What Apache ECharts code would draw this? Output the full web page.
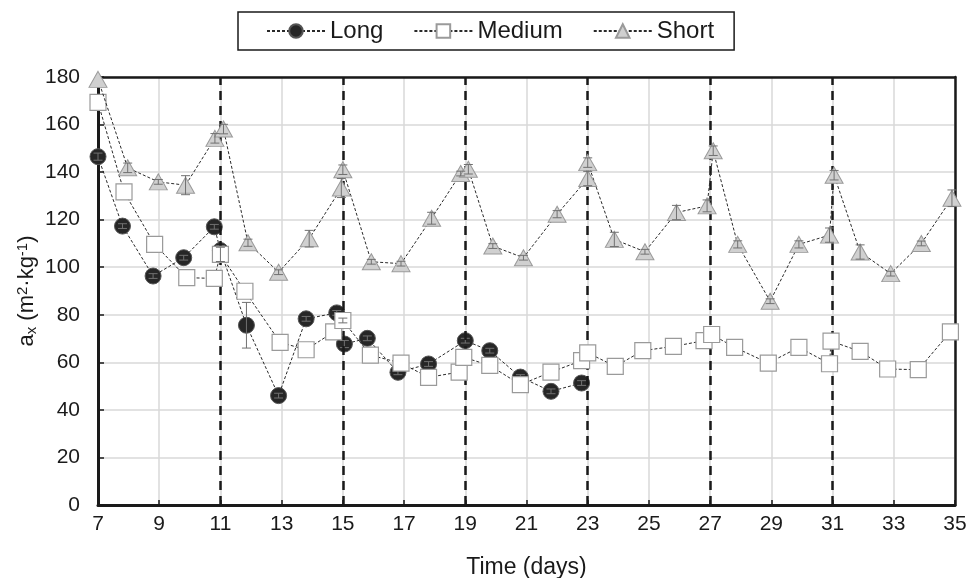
<!DOCTYPE html>
<html>
<head>
<meta charset="utf-8">
<script src="https://cdn.jsdelivr.net/npm/echarts@6/dist/echarts.min.js"></script>
<style>html,body{margin:0;padding:0;background:#fff}#c{width:968px;height:578px}</style>
</head>
<body>
<div id="c"></div>
<script>
// Long series: [day, value, error]
const longDays = [7, 7.8, 8.8, 9.8, 10.8, 11.0, 11.85, 12.9, 13.8, 14.8, 15.05, 15.8, 16.8, 17.8, 19.0, 19.8, 20.8, 21.8, 22.8];
const longVals = [146.5, 117.3, 96.3, 104, 117, 107, 75.6, 46, 78.3, 80.8, 67.7, 70.1, 55.8, 59.3, 69.1, 64.9, 53.8, 47.8, 51.3];
const longErr  = [1.5, 1, 1, 1, 1, 2, 9.6, 1, 1, 1, 1.5, 1, 1, 1, 1, 1, 1, 1, 1];

const mediumDays = [7, 7.85, 8.85, 9.9, 10.8, 11.0, 11.8, 12.95, 13.8, 14.7, 15.0, 15.9, 16.9, 17.8, 18.8, 18.95, 19.8, 20.8, 21.8, 22.8, 23.0, 23.9, 24.8, 25.8, 26.8, 27.05, 27.8, 28.9, 29.9, 30.9, 30.95, 31.9, 32.8, 33.8, 34.85];
const mediumVals = [169.3, 131.7, 109.6, 95.6, 95.3, 105.4, 89.9, 68.4, 65.3, 72.8, 77.6, 63, 59.7, 53.7, 55.9, 62.1, 58.7, 50.6, 55.9, 60.7, 64, 58.3, 64.9, 66.7, 69.1, 71.7, 66.3, 59.7, 66.3, 59.4, 68.9, 64.6, 57.2, 56.9, 72.8];
const mediumErr  = [0, 0, 0, 0, 0, 3, 0, 0, 0, 0, 1, 0, 0, 0, 0, 0, 0, 0, 0, 0, 0, 0, 0, 0, 0, 0, 0, 0, 0, 0, 0, 0, 0, 0, 0];

const shortDays = [7, 7.97, 8.97, 9.86, 10.82, 11.1, 11.9, 12.9, 13.9, 14.95, 15.0, 15.93, 16.9, 17.9, 18.85, 19.1, 19.9, 20.9, 22.0, 23.0, 23.0, 23.87, 24.87, 25.9, 26.9, 27.1, 27.9, 28.96, 29.9, 30.9, 31.05, 31.9, 32.9, 33.9, 34.9];
const shortVals = [179, 141.8, 135.9, 134.5, 154.2, 158.1, 110.3, 97.9, 112, 133.3, 141, 102.3, 101.5, 120.6, 139.4, 141.2, 108.9, 104, 122.3, 137.3, 144, 111.7, 106.5, 123, 125.8, 149, 109.6, 85.7, 109.6, 113.5, 138.7, 106.4, 97.3, 110, 129];
const shortErr  = [0, 2, 1, 4, 2, 2, 1.5, 1, 3.5, 4, 2, 1, 1, 2.5, 1, 2, 1, 1, 1.5, 3, 2, 3, 1, 3, 2.5, 2, 1.5, 1, 1.5, 3, 2, 3, 1, 1, 3.5];

const dividers = [11, 15, 19, 23, 27, 31];
const xTicks = {min: 7, max: 35, interval: 2};
const yTicks = {min: 0, max: 180, interval: 20};

const FONT = "'Liberation Sans', Arial, Helvetica, sans-serif";
const INK = '#1a1a1a';

function zip(d, v) { return d.map((x, i) => [x, v[i]]); }
function zip3(d, v, e) { return d.map((x, i) => [x, v[i], e[i]]).filter(r => r[2] > 0); }

function errRender(params, api) {
  const x = api.value(0), y = api.value(1), e = api.value(2);
  const t = api.coord([x, y + e]);
  const b = api.coord([x, y - e]);
  const w = 4.5;
  const st = {stroke: '#707070', lineWidth: 1};
  return {
    type: 'group',
    children: [
      {type: 'line', shape: {x1: t[0], y1: t[1], x2: b[0], y2: b[1]}, style: st},
      {type: 'line', shape: {x1: t[0] - w, y1: t[1], x2: t[0] + w, y2: t[1]}, style: st},
      {type: 'line', shape: {x1: b[0] - w, y1: b[1], x2: b[0] + w, y2: b[1]}, style: st}
    ]
  };
}

const lineStyle = {type: [3, 2], width: 1, color: '#2a2a2a'};
const frameAxis = {
  axisLine: {show: true, onZero: false, lineStyle: {color: INK, width: 2.5}},
  axisTick: {show: false}, axisLabel: {show: false}, splitLine: {show: false}
};

const chart = echarts.init(document.getElementById('c'), null, {renderer: 'canvas'});
chart.setOption({
  animation: false,
  backgroundColor: '#fff',
  textStyle: {fontFamily: FONT},
  legend: {
    data: ['Long', 'Medium', 'Short'],
    top: 12,
    left: 238,
    itemWidth: 58,
    itemHeight: 17,
    itemGap: 30,
    padding: [7, 20, 7, 28],
    borderColor: INK,
    borderWidth: 1.5,
    textStyle: {fontSize: 24, color: INK, fontFamily: FONT}
  },
  grid: {left: 98, right: 13, top: 77, bottom: 73, outerBoundsMode: 'none', containLabel: false},
  xAxis: [{
    type: 'value',
    min: xTicks.min, max: xTicks.max, interval: xTicks.interval,
    name: 'Time (days)',
    nameLocation: 'middle',
    nameGap: 51,
    nameMoveOverlap: false,
    nameTextStyle: {fontSize: 23, color: INK, fontFamily: FONT},
    axisLine: {onZero: false, lineStyle: {color: INK, width: 3}},
    axisTick: {inside: true, length: 5, lineStyle: {color: INK, width: 1.5}},
    axisLabel: {fontSize: 21, color: INK, margin: 9, fontFamily: FONT},
    splitLine: {show: true, lineStyle: {color: '#d9d9d9', width: 1.5}}
  }, Object.assign({
    type: 'value', position: 'top',
    min: xTicks.min, max: xTicks.max, interval: xTicks.interval
  }, frameAxis)],
  yAxis: [{
    type: 'value',
    min: yTicks.min, max: yTicks.max, interval: yTicks.interval,
    name: '{a|a}{s|x}{a| (m}{p|2}{a|·kg}{p|-1}{a|)}',
    nameLocation: 'middle',
    nameGap: 57,
    nameMoveOverlap: false,
    nameTextStyle: {
      fontFamily: FONT, color: INK,
      rich: {
        a: {fontSize: 22, fontFamily: FONT, color: INK, lineHeight: 28, verticalAlign: 'middle'},
        s: {fontSize: 15, fontFamily: FONT, color: INK, lineHeight: 28, verticalAlign: 'bottom', padding: [0, 0, 2, 0]},
        p: {fontSize: 15, fontFamily: FONT, color: INK, lineHeight: 28, verticalAlign: 'top', padding: [2, 0, 0, 0]}
      }
    },
    axisLine: {show: true, onZero: false, lineStyle: {color: INK, width: 3}},
    axisTick: {show: true, inside: true, length: 6, lineStyle: {color: INK, width: 1.5}},
    axisLabel: {fontSize: 21, color: INK, margin: 18, fontFamily: FONT},
    splitLine: {show: true, lineStyle: {color: '#d9d9d9', width: 1.5}}
  }, Object.assign({
    type: 'value', position: 'right',
    min: yTicks.min, max: yTicks.max, interval: yTicks.interval
  }, frameAxis)],
  series: [
    {
      type: 'line', name: 'dividers', data: [], z: 1, silent: true,
      markLine: {
        silent: true, symbol: 'none', animation: false,
        label: {show: false},
        lineStyle: {type: [9, 6], width: 2.5, color: INK},
        data: dividers.map(v => ({xAxis: v}))
      }
    },
    {
      type: 'line', name: 'Long', data: zip(longDays, longVals),
      symbol: 'circle', symbolSize: 16,
      lineStyle: lineStyle,
      itemStyle: {color: '#262626', borderColor: '#555', borderWidth: 1},
      z: 3
    },
    {
      type: 'custom', name: 'LongErr', data: zip3(longDays, longVals, longErr),
      renderItem: errRender, z: 4, silent: true
    },
    {
      type: 'line', name: 'Medium', data: zip(mediumDays, mediumVals),
      symbol: 'rect', symbolSize: 16,
      lineStyle: lineStyle,
      itemStyle: {color: '#ffffff', borderColor: '#9a9a9a', borderWidth: 1.2},
      z: 5
    },
    {
      type: 'custom', name: 'MediumErr', data: zip3(mediumDays, mediumVals, mediumErr),
      renderItem: errRender, z: 6, silent: true
    },
    {
      type: 'line', name: 'Short', data: zip(shortDays, shortVals),
      symbol: 'triangle', symbolSize: [18, 16],
      lineStyle: lineStyle,
      itemStyle: {color: '#d0d0d0', borderColor: '#9a9a9a', borderWidth: 1},
      z: 7
    },
    {
      type: 'custom', name: 'ShortErr', data: zip3(shortDays, shortVals, shortErr),
      renderItem: errRender, z: 8, silent: true
    }
  ]
});
</script>
</body>
</html>
